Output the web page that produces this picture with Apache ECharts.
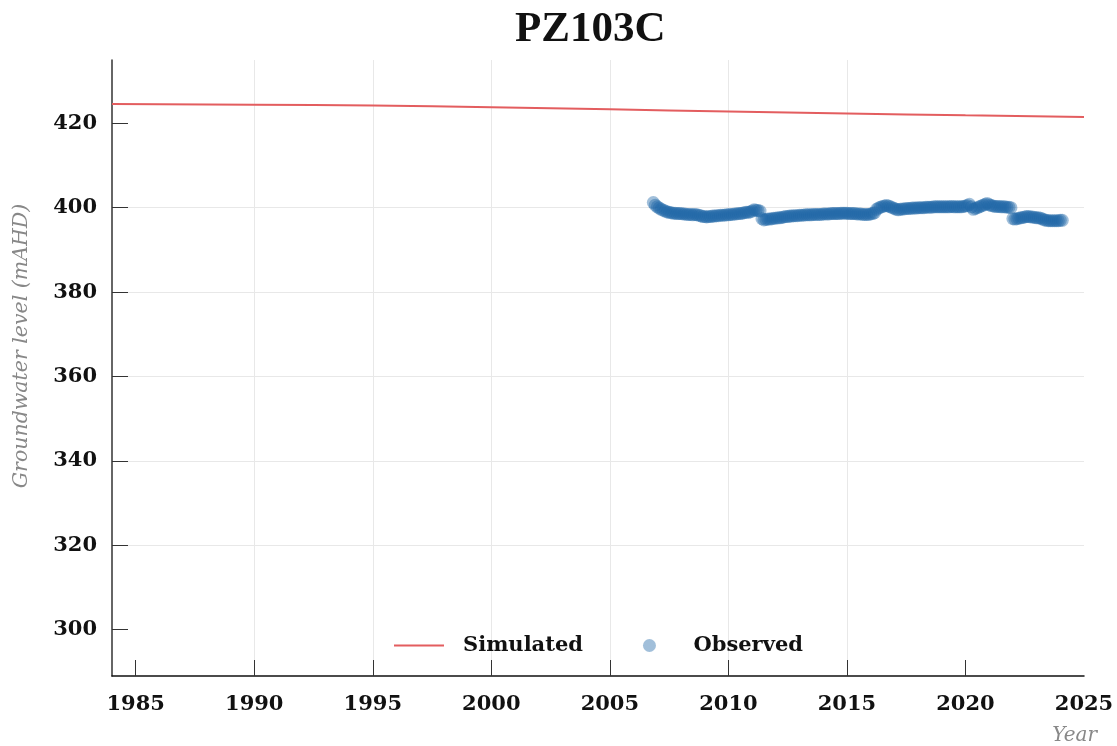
<!DOCTYPE html>
<html>
<head>
<meta charset="utf-8">
<script src="https://cdn.jsdelivr.net/npm/echarts@6/dist/echarts.min.js"></script>
<style>
  html, body { margin: 0; padding: 0; background: #fff; }
  #chart { width: 1117px; height: 746px; }
</style>
</head>
<body>
<div id="chart"></div>
<script>
// tick labels
const xTicks = [1985, 1990, 1995, 2000, 2005, 2010, 2015, 2020, 2025];
const yTicks = [300, 320, 340, 360, 380, 400, 420];

// simulated head (mAHD), yearly
const simYears = [1984, 1990, 1995, 2000, 2005, 2010, 2015, 2020, 2025];
const simLevels = [424.6, 424.4, 424.2, 423.8, 423.3, 422.8, 422.3, 421.9, 421.5];

// observed head (mAHD), monthly readings starting Nov 2006
const obsStartYear = 2006;
const obsStartMonth = 11;
const obsLevels = [
  401.2, 400.6,                                                                 // 2006
  400.2, 399.9, 399.6, 399.4, 399.2, 399.0, 398.9, 398.8, 398.7, 398.7, 398.6, 398.6, // 2007
  398.6, 398.5, 398.5, 398.4, 398.4, 398.4, 398.3, 398.4, 398.3, 398.2, 398.1, 397.9, // 2008
  397.9, 397.8, 397.9, 397.9, 398.0, 398.0, 398.1, 398.1, 398.2, 398.2, 398.2, 398.3, // 2009
  398.3, 398.4, 398.4, 398.5, 398.5, 398.6, 398.6, 398.7, 398.8, 398.9, 398.9, 399.0, // 2010
  399.2, 399.5, 399.4, 399.3, 399.2, 397.4, 397.1, 397.2, 397.3, 397.3, 397.4, 397.5, // 2011
  397.5, 397.6, 397.6, 397.7, 397.8, 397.9, 397.9, 398.0, 398.0, 398.1, 398.1, 398.1, // 2012
  398.2, 398.2, 398.2, 398.3, 398.3, 398.3, 398.3, 398.4, 398.4, 398.4, 398.4, 398.4, // 2013
  398.5, 398.5, 398.5, 398.5, 398.6, 398.6, 398.6, 398.6, 398.6, 398.7, 398.7, 398.7, // 2014
  398.7, 398.6, 398.6, 398.6, 398.6, 398.5, 398.5, 398.5, 398.4, 398.4, 398.4, 398.4, // 2015
  398.5, 398.6, 398.8, 399.6, 399.9, 400.1, 400.3, 400.4, 400.5, 400.4, 400.2, 400.0, // 2016
  399.8, 399.6, 399.5, 399.6, 399.7, 399.7, 399.8, 399.8, 399.8, 399.9, 399.9, 399.9, // 2017
  400.0, 400.0, 400.0, 400.0, 400.1, 400.1, 400.1, 400.1, 400.2, 400.2, 400.2, 400.2, // 2018
  400.2, 400.2, 400.2, 400.2, 400.2, 400.3, 400.2, 400.2, 400.2, 400.2, 400.2, 400.3, // 2019
  400.4, 400.5, 400.8, 400.2, 399.6, 399.8, 400.0, 400.2, 400.4, 400.6, 400.8, 401.0, // 2020
  400.7, 400.5, 400.4, 400.3, 400.3, 400.3, 400.2, 400.2, 400.2, 400.1, 400.1, 400.0, // 2021
  397.4, 397.3, 397.4, 397.5, 397.6, 397.7, 397.8, 397.9, 397.9, 397.8, 397.8, 397.7, // 2022
  397.6, 397.6, 397.5, 397.3, 397.1, 397.0, 396.9, 396.9, 396.9, 396.9, 396.9, 396.9, // 2023
  397.0, 397.0                                                                  // 2024
];

const simData = simYears.map((y, i) => [y, simLevels[i]]);
const obsData = obsLevels.map((v, i) => [obsStartYear + (obsStartMonth - 1 + i) / 12, v]);

const serif = 'DejaVu Serif';

var myChart = echarts.init(document.getElementById('chart'));
myChart.setOption({
    animation: false,
    backgroundColor: '#fff',
    title: {
        text: 'PZ103C',
        left: 510,
        top: 3,
        textStyle: { fontFamily: 'Liberation Serif', fontWeight: 'bold', fontSize: 43, color: '#111' }
    },
    grid: { left: 112, right: 33, top: 60, bottom: 69 },
    legend: { // 图例
        top: 630,
        left: 388,
        itemWidth: 50,
        itemHeight: 13,
        itemGap: 60,
        textStyle: { fontFamily: serif, fontWeight: 'bold', fontSize: 21, color: '#111', padding: [0, 0, 0, 14] },
        data: [
            { name: 'Simulated', itemStyle: { opacity: 0 } },
            { name: 'Observed', icon: 'circle' }
        ]
    },
    xAxis: {
        type: 'value',
        min: 1984,
        max: 2025,
        splitNumber: 8,
        name: 'Year',
        nameLocation: 'end',
        nameGap: 13,
        nameTextStyle: {
            fontFamily: serif, fontStyle: 'italic', fontSize: 20, color: '#888',
            align: 'right', verticalAlign: 'top', padding: [50, 0, 0, 0]
        },
        axisLine: { lineStyle: { color: '#111', width: 1.5 } },
        axisTick: { inside: true, length: 16, lineStyle: { color: '#333' }, customValues: xTicks.slice(0, -1) },
        axisLabel: {
            customValues: xTicks,
            margin: 18,
            fontFamily: serif, fontWeight: 'bold', fontSize: 21, color: '#111',
            formatter: v => String(v)
        },
        splitLine: { show: true, showMinLine: false, showMaxLine: false, lineStyle: { color: '#e8e8e8' } }
    },
    yAxis: {
        type: 'value',
        min: 289,
        max: 435,
        splitNumber: 7,
        name: 'Groundwater level (mAHD)',
        nameLocation: 'middle',
        nameGap: 80,
        nameTextStyle: {
            fontFamily: serif, fontStyle: 'italic', fontSize: 20.5, color: '#888',
            padding: [0, 0, 0, 44]
        },
        axisLine: { show: true, lineStyle: { color: '#333', width: 1.5 } },
        axisTick: { show: true, inside: true, length: 16, lineStyle: { color: '#333' }, customValues: yTicks },
        axisLabel: {
            customValues: yTicks,
            margin: 15,
            fontFamily: serif, fontWeight: 'bold', fontSize: 21, color: '#111'
        },
        splitLine: { show: true, showMinLine: false, showMaxLine: false, lineStyle: { color: '#e8e8e8' } }
    },
    series: [
        {
            name: 'Simulated',
            type: 'line',
            symbol: 'none',
            smooth: true,
            lineStyle: { color: '#e35d5f', width: 2 },
            itemStyle: { color: '#e35d5f' },
            data: simData,
            z: 3
        },
        {
            name: 'Observed',
            type: 'scatter',
            symbol: 'circle',
            symbolSize: 13,
            itemStyle: { color: '#2066a8', opacity: 0.42 },
            data: obsData,
            z: 2
        }
    ]
});
</script>
</body>
</html>
